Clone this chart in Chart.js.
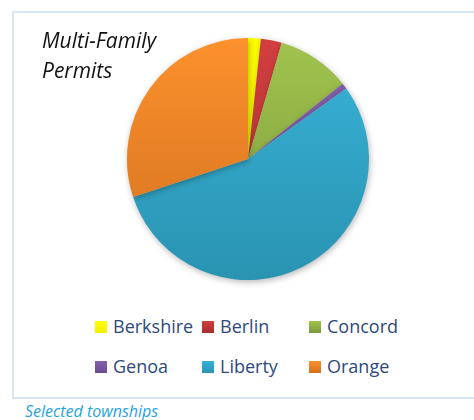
<!DOCTYPE html>
<html>
<head>
<meta charset="utf-8">
<script src="https://cdn.jsdelivr.net/npm/chart.js@4"></script>
<style>
  html, body { margin: 0; padding: 0; background: #fff; }
  body { width: 474px; height: 420px; position: relative; overflow: hidden; font-family: "Open Sans", sans-serif; }
  #frame { position: absolute; left: 12px; top: 11px; width: 470px; height: 384px; border: 2px solid #dae5f2; border-right: none; }
  #title { position: absolute; left: 42px; top: 25px; font-style: italic; font-size: 21px; line-height: 30px; color: #111; }
  #pie-wrap { position: absolute; left: 117px; top: 28px; width: 262px; height: 262px; }
  #legend { position: absolute; left: 95px; top: 314px; display: grid; grid-template-columns: 107px 107px 107px; row-gap: 15px; }
  .item { display: flex; align-items: center; font-size: 18px; line-height: 25px; color: #2d4a7a; white-space: nowrap; }
  .box { width: 12px; height: 12px; margin-right: 6px; flex: none; }
  #caption { position: absolute; left: 25px; top: 400px; font-style: italic; font-size: 16px; color: #1fa3df; }
</style>
</head>
<body>
<div id="frame"></div>
<div id="pie-wrap"><canvas id="chart"></canvas></div>
<div id="title">Multi-Family<br>Permits</div>
<div id="legend"></div>
<div id="caption">Selected townships</div>
<script>
const townships = ['Berkshire', 'Berlin', 'Concord', 'Genoa', 'Liberty', 'Orange'];
const shares = [1.7, 2.8, 9.8, 0.8, 54.8, 30.1];
const topColors = ['#ffff00', '#d23f3f', '#a0c44e', '#8462ad', '#38b3d6', '#fc912d'];
const bottomColors = ['#f0f000', '#a82c2c', '#7b983a', '#6a4a90', '#2a93b2', '#d2701e'];

function sliceFill(context) {
  const chart = context.chart;
  const area = chart.chartArea;
  if (!area) return topColors[context.dataIndex];
  const g = chart.ctx.createLinearGradient(0, area.top, 0, area.bottom);
  g.addColorStop(0, topColors[context.dataIndex]);
  g.addColorStop(1, bottomColors[context.dataIndex]);
  return g;
}

// soft drop shadow under the pie
const shadowPlugin = {
  id: 'pieShadow',
  beforeDatasetsDraw(chart) {
    const ctx = chart.ctx;
    ctx.save();
    ctx.shadowColor = 'rgba(0,0,0,0.28)';
    ctx.shadowBlur = 6;
    ctx.shadowOffsetX = 1;
    ctx.shadowOffsetY = 2;
  },
  afterDatasetsDraw(chart) {
    chart.ctx.restore();
  }
};

const chart = new Chart(document.getElementById('chart'), {
  type: 'pie',
  data: {
    labels: townships,
    datasets: [{
      data: shares,
      backgroundColor: sliceFill,
      borderWidth: 0,
      hoverOffset: 0
    }]
  },
  options: {
    responsive: true,
    maintainAspectRatio: false,
    animation: false,
    layout: { padding: 10 },
    plugins: {
      legend: { display: false },
      tooltip: { enabled: false }
    }
  },
  plugins: [shadowPlugin]
});

// legend laid out in fixed columns like the original
const legendDiv = document.getElementById('legend');
townships.forEach((name, i) => {
  const item = document.createElement('div');
  item.className = 'item';
  item.innerHTML = `<span class="box" style="background:linear-gradient(${topColors[i]}, ${bottomColors[i]})"></span>${name}`;
  legendDiv.appendChild(item);
});
</script>
</body>
</html>
